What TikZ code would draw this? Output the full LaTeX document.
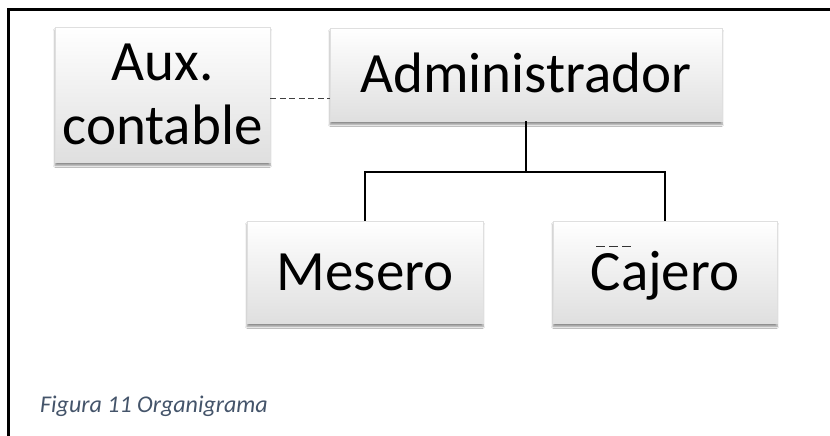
\documentclass[tikz,border=0pt]{standalone}
\usepackage{fontspec}
\setmainfont{Carlito}
\usetikzlibrary{shadows.blur}
\definecolor{capcol}{HTML}{44546A}
\begin{document}
\begin{tikzpicture}[x=1pt,y=1pt,
  orgbox/.style={rectangle, draw=gray!25, line width=0.5pt, top color=white, middle color=white, bottom color=gray!25,
    blur shadow={shadow blur steps=6, shadow xshift=0pt, shadow yshift=-3.5pt, shadow opacity=45},
    inner sep=0pt, font=\fontsize{57}{64}\selectfont, align=center},
  oneline/.style={text height=37pt, text depth=0pt},
  conn/.style={line width=2pt, black},
  dashconn/.style={line width=0.9pt, black!75, dash pattern=on 6pt off 3.5pt}]
\useasboundingbox (0,0) rectangle (830,436);
\fill[white] (0,0) rectangle (830,436);
% frame
\draw[line width=3pt, black] (8,0) -- (8,426) -- (830,426);
% boxes
\node[orgbox, minimum width=215pt, minimum height=135pt] (aux) at (162.5,341.5) {Aux.\\contable};
\node[orgbox, oneline, minimum width=392pt, minimum height=93pt] (admin) at (526,361.5) {Administrador};
\node[orgbox, oneline, minimum width=236pt, minimum height=102pt] (mesero) at (365,164) {Mesero};
\node[orgbox, oneline, minimum width=224pt, minimum height=102pt] (cajero) at (665,164) {Cajero};
% connectors
\draw[dashconn] (aux.east |- 0,338) -- (admin.west |- 0,338);
\draw[conn] (admin.south) -- (admin.south |- 0,264);
\draw[conn] (mesero.north) -- (mesero.north |- 0,264) -- (cajero.north |- 0,264) -- (cajero.north);
% small dashed mark above Cajero
\coordinate (m1) at (596,190);
\coordinate (m2) at (634,190);
\draw[line width=0.8pt, black!80, dash pattern=on 9pt off 4pt] (m1) -- (m2);
% caption
\node[anchor=base west, inner sep=0pt, text=capcol, font=\fontsize{24}{28}\selectfont\itshape] (cap) at (40,23) {Figura 11 Organigrama};
\end{tikzpicture}
\end{document}
